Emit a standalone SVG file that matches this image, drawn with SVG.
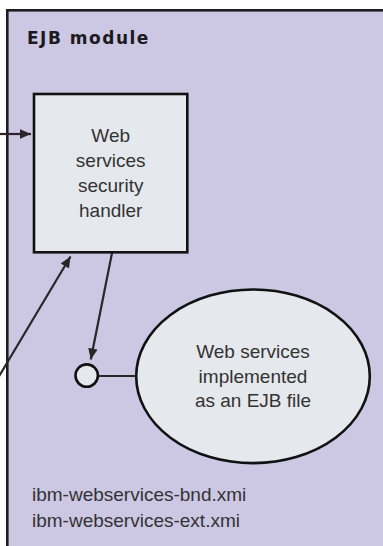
<svg xmlns="http://www.w3.org/2000/svg" width="383" height="546" viewBox="0 0 383 546">
  <style>
    .frame { fill: #ccc7e3; stroke: #1e1c1e; stroke-width: 2.6; }
    .node { fill: #e5e8ec; stroke: #111; stroke-width: 2.6; }
    .label { font-family: "Liberation Sans", Arial, sans-serif; font-size: 19px; fill: #333; }
    .title { font-family: "DejaVu Sans", "Liberation Sans", sans-serif; font-weight: bold; font-size: 17px; letter-spacing: 1.5px; fill: #1c1a1c; }
    .conn { fill: none; stroke: #2a2628; stroke-width: 2.2; }
    .port { fill: #e5e8ec; stroke: #111; stroke-width: 2.6; }
  </style>
  <defs>
    <marker id="arrow" markerUnits="userSpaceOnUse" markerWidth="12" markerHeight="10" refX="11" refY="4.8" orient="auto">
      <path d="M0,0 L11,4.8 L0,9.6 Z" fill="#2a2628"/>
    </marker>
  </defs>

  <!-- module container -->
  <g id="ejb-module">
    <rect class="frame" x="7.3" y="10.3" width="400" height="560"/>
    <text class="title" x="27" y="43.5">EJB module</text>
    <text class="label" x="32" y="500.5">ibm-webservices-bnd.xmi</text>
    <text class="label" x="32" y="526.5">ibm-webservices-ext.xmi</text>
  </g>

  <!-- connectors -->
  <g id="connectors">
    <line class="conn" x1="0" y1="134" x2="31" y2="134" marker-end="url(#arrow)"/>
    <line class="conn" x1="-2" y1="378" x2="70.5" y2="256.5" marker-end="url(#arrow)"/>
    <line class="conn" x1="112" y1="253" x2="90.8" y2="359.5" marker-end="url(#arrow)"/>
    <line class="conn" x1="98" y1="376" x2="137" y2="376"/>
  </g>

  <g id="security-handler">
    <rect class="node" x="34" y="94" width="153.3" height="158.3"/>
    <text class="label" text-anchor="middle" x="110.7" y="142">Web</text>
    <text class="label" text-anchor="middle" x="110.7" y="167">services</text>
    <text class="label" text-anchor="middle" x="110.7" y="192">security</text>
    <text class="label" text-anchor="middle" x="110.7" y="217">handler</text>
  </g>

  <g id="service-port">
    <circle class="port" cx="86.7" cy="375.6" r="11.2"/>
  </g>

  <g id="ejb-web-service">
    <ellipse class="node" cx="253" cy="376.3" rx="116.8" ry="86.8"/>
    <text class="label" text-anchor="middle" x="253" y="357.5">Web services</text>
    <text class="label" text-anchor="middle" x="253" y="382.5">implemented</text>
    <text class="label" text-anchor="middle" x="253" y="407">as an EJB file</text>
  </g>
</svg>
